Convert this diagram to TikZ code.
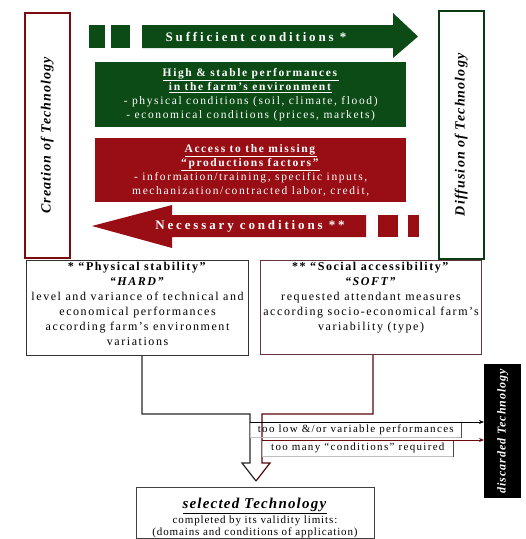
\documentclass[tikz,border=0pt]{standalone}
\usepackage{fontspec}
\setmainfont{Liberation Serif}[LetterSpace=8]
\usetikzlibrary{arrows.meta}
\definecolor{grn}{RGB}{12,74,22}
\definecolor{rd}{RGB}{152,14,20}
\begin{document}
\begin{tikzpicture}[x=1pt,y=-1pt,
  sidebox/.style={draw, line width=1.6pt, inner sep=0pt},
  sidetext/.style={rotate=90, font=\fontsize{14}{16}\selectfont\bfseries\itshape},
  fillbox/.style={inner sep=0pt, anchor=north west},
  wtext/.style={text=white, align=center, inner sep=0pt},
  boxfont/.style={font=\fontsize{11.5}{14}\selectfont\addfontfeatures{LetterSpace=14}},
  condbox/.style={draw, line width=1.1pt, inner sep=0pt, anchor=north west, minimum width=222pt, minimum height=95pt},
  ctext/.style={align=center, inner sep=0pt, anchor=north, font=\fontsize{12}{15}\selectfont\addfontfeatures{LetterSpace=13}},
  lab/.style={draw=black!25, line width=0.6pt, inner sep=0pt, anchor=north west, font=\fontsize{11}{12}\selectfont\addfontfeatures{LetterSpace=12}},
  lconn/.style={draw=black!85, line width=1.2pt, line join=miter},
  rconn/.style={draw=rd!55!black, line width=1.2pt, line join=miter},
  tipx/.style={-{Stealth[length=5pt,width=4pt]}, line width=0.9pt},
  bigarrowtext/.style={wtext, font=\fontsize{13}{15}\selectfont\bfseries\addfontfeatures{LetterSpace=22}}
]
\useasboundingbox (0,0) rectangle (526,539);

% side boxes
\node[sidebox, draw=rd!80!black, anchor=north west, minimum width=45pt, minimum height=245pt] (crea) at (24,12) {};
\node[sidetext] (creat) at (crea.center) {Creation of Technology};
\node[sidebox, draw=grn!80!black, anchor=north west, minimum width=45pt, minimum height=248pt] (diff) at (438,10) {};
\node[sidetext] (difft) at (diff.center) {Diffusion of Technology};

% sufficient arrow
\fill[grn] (89,25) rectangle (105,48);
\fill[grn] (111,25) rectangle (130,48);
\fill[grn] (142,25) -- (393,25) -- (393,13) -- (418,36.5) -- (393,58) -- (393,48) -- (142,48) -- cycle;
\node[bigarrowtext] (suff) at (256,36.5) {Sufficient conditions *};

% green box
\node[fillbox, fill=grn, minimum width=311pt, minimum height=65pt] (gbox) at (95,62) {};
\node[wtext, boxfont] (gtext) at (gbox.center) {\underline{\textbf{High \& stable performances}}\\ \underline{\textbf{in the farm's environment}}\\ - physical conditions (soil, climate, flood)\\ - economical conditions (prices, markets)};

% red box
\node[fillbox, fill=rd, minimum width=311pt, minimum height=64pt] (rbox) at (95,138) {};
\node[wtext, boxfont] (rtext) at (rbox.center) {\underline{\textbf{Access to the missing}}\\ \underline{\textbf{``productions factors''}}\\ - information/training, specific inputs,\\ mechanization/contracted labor, credit,};

% necessary arrow
\fill[rd] (92,226) -- (172,205) -- (172,215) -- (366,215) -- (366,237) -- (172,237) -- (172,248) -- cycle;
\fill[rd] (378,215) rectangle (398,237);
\fill[rd] (408,215) rectangle (419,237);
\node[bigarrowtext] (necs) at (250,226) {Necessary conditions **};

% condition boxes
\node[condbox, draw=black!80] (hard) at (26,260) {};
\node[ctext] (hardt) at ([yshift=-2pt]hard.north) {\textbf{* ``Physical stability''}\\ \textbf{\textit{``HARD''}}\\ level and variance of technical and\\ economical performances\\ according farm's environment\\ variations};
\node[condbox, draw=rd!40!black!80, minimum width=221pt, minimum height=94pt] (soft) at (260,260) {};
\node[ctext] (softx) at ([yshift=-2pt]soft.north) {\textbf{** ``Social accessibility''}\\ \textbf{\textit{``SOFT''}}\\ requested attendant measures\\ according socio-economical farm's\\ variability (type)};

% discarded box
\node[fillbox, fill=black, minimum width=37pt, minimum height=134pt] (disc) at (484,364) {};
\node[sidetext, text=white, font=\fontsize{12}{14}\selectfont\bfseries\itshape] (disct) at (disc.center) {discarded Technology};

% selected box
\node[fillbox, draw=black!75, line width=1pt, minimum width=238pt, minimum height=51pt] (sel) at (136,487) {};
\node[align=center, inner sep=0pt, font=\fontsize{11}{12.5}\selectfont] (selt) at (255,518) {\fontsize{15}{16}\selectfont\underline{\textbf{\textit{selected Technology}}}\\[1pt] completed by its validity limits:\\ (domains and conditions of application)};

% connectors
\coordinate (lx) at (142,0);
\coordinate (rx) at (373,0);
\coordinate (ai) at (250,414);
\coordinate (bi) at (262,414);
\coordinate (tip) at (256,481);
\draw[lconn] (hard.south -| lx) |- (ai) -- (250,463) -- (242,463) -- (tip);
\draw[rconn] (soft.south -| rx) |- (bi) -- (262,463) -- (270,463) -- (tip);

% labels
\node[lab, minimum width=211pt, minimum height=15pt] (low) at (250,422) {too low \&/or variable performances};
\draw[black!70, line width=0.9pt] (low.north east) -- (low.south east);
\draw[tipx, black] (low.north west) -- (low.north west -| disc.west);
\node[lab, minimum width=191pt, minimum height=16pt] (many) at (262,440) {too many ``conditions'' required};
\draw[black!70, line width=0.9pt] (many.north east) -- (many.south east);
\draw[tipx, rd!70!black] (many.north west) -- (many.north west -| disc.west);
\end{tikzpicture}
\end{document}
